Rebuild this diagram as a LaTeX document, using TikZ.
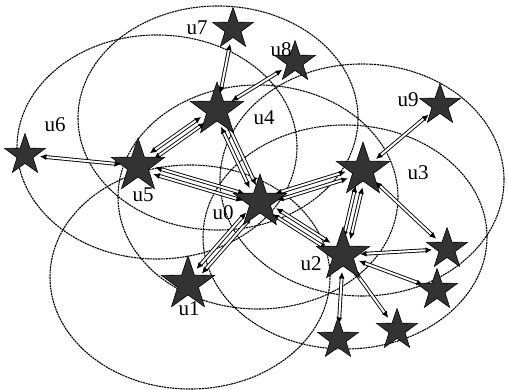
\documentclass[tikz,border=0pt]{standalone}
\usepackage{fontspec}
\setmainfont{Liberation Serif}
\usetikzlibrary{shapes.geometric,arrows.meta,calc}
\definecolor{starfill}{HTML}{333333}
\newcommand\lk[5]{\draw[band, shorten <=#4, shorten >=#5] ($(#1)!#3!90:(#2)$) -- ($(#2)!#3!-90:(#1)$);}
\begin{document}
\begin{tikzpicture}[x=1pt,y=-1pt,
  ell/.style={draw, line width=1.1pt, dash pattern=on 2pt off 0.7pt},
  bigstar/.style={star, star points=5, star point ratio=2.55, minimum size=56pt, inner sep=0pt, fill=starfill, draw=black, line width=0.6pt},
  smallstar/.style={bigstar, minimum size=43pt},
  band/.style={double=white, double distance=2pt, line width=0.9pt, {Latex[length=6.5pt,width=6pt]}-{Latex[length=6.5pt,width=6pt]}},
  lab/.style={font=\fontsize{21}{21}\selectfont, inner sep=0pt}
]
\useasboundingbox (0,0) rectangle (508,390);
% ranges
\draw[ell] (157,147) ellipse [x radius=140pt, y radius=112pt];
\draw[ell] (218,118) ellipse [x radius=140pt, y radius=112pt];
\draw[ell] (258,197) ellipse [x radius=140pt, y radius=112pt];
\draw[ell] (362,180) ellipse [x radius=142pt, y radius=116pt];
\draw[ell] (345,237) ellipse [x radius=142pt, y radius=112pt];
\draw[ell] (190,277) ellipse [x radius=140pt, y radius=112pt];
% star positions
\coordinate (u0) at (260,202);
\coordinate (u1) at (188,284);
\coordinate (u2) at (343,255);
\coordinate (u3) at (363,170);
\coordinate (u4) at (217,110);
\coordinate (u5) at (138,166);
\coordinate (u6) at (25,155);
\coordinate (u7) at (233,29);
\coordinate (u8) at (295,62);
\coordinate (u9) at (440,105);
\coordinate (s1) at (447,249);
\coordinate (s2) at (437,290);
\coordinate (s3) at (397,330);
\coordinate (s4) at (338,339);
% links
\lk{u5}{u6}{0pt}{17pt}{15pt}
\lk{u5}{u4}{3.5pt}{17pt}{17pt}
\lk{u5}{u4}{-3.5pt}{17pt}{17pt}
\lk{u5}{u0}{3.5pt}{17pt}{17pt}
\lk{u5}{u0}{-3.5pt}{17pt}{17pt}
\lk{u4}{u0}{3.5pt}{17pt}{17pt}
\lk{u4}{u0}{-3.5pt}{17pt}{17pt}
\lk{u4}{u7}{0pt}{17pt}{15pt}
\lk{u4}{u8}{0pt}{17pt}{15pt}
\lk{u0}{u3}{3.5pt}{17pt}{17pt}
\lk{u0}{u3}{-3.5pt}{17pt}{17pt}
\lk{u0}{u2}{3.5pt}{17pt}{17pt}
\lk{u0}{u2}{-3.5pt}{17pt}{17pt}
\lk{u0}{u1}{3.5pt}{17pt}{17pt}
\lk{u0}{u1}{-3.5pt}{17pt}{17pt}
\lk{u3}{u2}{3.5pt}{17pt}{17pt}
\lk{u3}{u2}{-3.5pt}{17pt}{17pt}
\lk{u3}{u9}{0pt}{17pt}{15pt}
\lk{u3}{s1}{0pt}{17pt}{15pt}
\lk{u2}{s1}{0pt}{17pt}{15pt}
\lk{u2}{s2}{0pt}{17pt}{15pt}
\lk{u2}{s3}{0pt}{17pt}{15pt}
\lk{u2}{s4}{0pt}{17pt}{15pt}
% stars
\foreach \n in {u0,u1,u2,u3,u4,u5} \node[bigstar] (st\n) at (\n) {};
\foreach \n in {u6,u7,u8,u9,s1,s2,s3,s4} \node[smallstar] (st\n) at (\n) {};
% labels
\node[lab] (l7) at (197,28) {u7};
\node[lab] (l8) at (281,50) {u8};
\node[lab] (l6) at (55,125) {u6};
\node[lab] (l4) at (264,118) {u4};
\node[lab] (l9) at (408,100) {u9};
\node[lab] (l3) at (418,173) {u3};
\node[lab] (l5) at (143,195) {u5};
\node[lab] (l0) at (223,213) {u0};
\node[lab] (l2) at (311,264) {u2};
\node[lab] (l1) at (189,309) {u1};
\end{tikzpicture}
\end{document}
